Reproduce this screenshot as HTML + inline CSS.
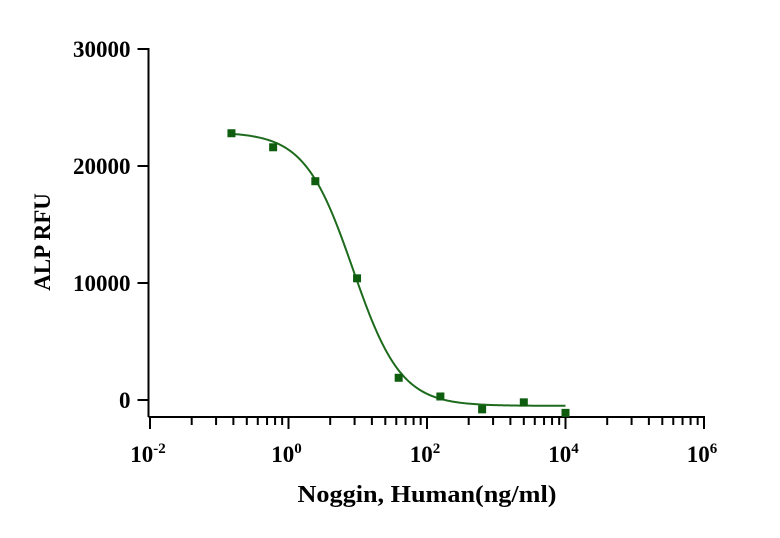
<!DOCTYPE html>
<html><head><meta charset="utf-8"><style>
body{margin:0;background:#fff}
svg text{font-family:"Liberation Serif",serif;font-weight:bold;fill:#000}
</style></head><body>
<svg id="chart" width="780" height="533" viewBox="0 0 780 533" xmlns="http://www.w3.org/2000/svg">
<g id="axes"></g><g id="plot"></g>
<text x="0" y="0" font-size="23" text-anchor="middle" transform="translate(50,242) rotate(-90)">ALP RFU</text>
<text x="427" y="502" font-size="24" text-anchor="middle" textLength="259" lengthAdjust="spacingAndGlyphs">Noggin, Human(ng/ml)</text>
</svg>
<script>
const concentrations=[0.15,0.6,2.44,9.77,39,156,625,2500,10000];
const rfuValues=[22800,21600,18700,10400,1900,300,-800,-200,-1100];
const yTicks=[0,10000,20000,30000];
const xTickExps=[-2,0,2,4,6];
const fitTop=22900,fitBottom=-500,fitEC50=8.5,fitHill=1.25;
const NS="http://www.w3.org/2000/svg";
const axX=148.5,axY=417;
function xs(v){return 288.5+Math.log10(v)/2*138.5;}
function ys(v){return 400-v*(351/30000);}
function el(t,a,p){const e=document.createElementNS(NS,t);for(const k in a)e.setAttribute(k,a[k]);p.appendChild(e);return e;}
const axes=document.getElementById('axes'),plot=document.getElementById('plot');
let e=el('line',{x1:axX,y1:ys(30000)-1,x2:axX,y2:axY,stroke:'#000','stroke-width':2},axes);

e=el('line',{x1:axX,y1:axY,x2:xs(1e6)+1,y2:axY,stroke:'#000','stroke-width':2},axes);

yTicks.forEach(v=>{
 const t=el('line',{x1:axX-11,y1:ys(v),x2:axX,y2:ys(v),stroke:'#000','stroke-width':2},axes);
 
 const l=el('text',{x:axX-18,y:ys(v)+8,'font-size':23,'text-anchor':'end'},axes);l.textContent=String(v);
 
});
xTickExps.forEach((p,i)=>{
 const x=xs(Math.pow(10,p));
 const t=el('line',{x1:x,y1:axY,x2:x,y2:axY+12,stroke:'#000','stroke-width':2},axes);
 
 const l=el('text',{x:x-2,y:axY+45,'font-size':23,'text-anchor':'middle'},axes);
 l.innerHTML='10<tspan dy="-9" font-size="15">'+p+'</tspan>';
 
 if(i<xTickExps.length-1){for(let k=2;k<=9;k++){
  const mx=x+Math.log10(k)*138.5;
  const m=el('line',{x1:mx,y1:axY,x2:mx,y2:axY+8,stroke:'#000','stroke-width':2},axes);
  
 }}
});
function fit(c){return fitBottom+(fitTop-fitBottom)/(1+Math.pow(c/fitEC50,fitHill));}
let d='';const lo=Math.log10(concentrations[0]),hi=Math.log10(concentrations[concentrations.length-1]);
for(let i=0;i<=200;i++){const c=Math.pow(10,lo+(hi-lo)*i/200);d+=(i?'L':'M')+xs(c).toFixed(2)+' '+ys(fit(c)).toFixed(2);}
e=el('path',{d:d,fill:'none',stroke:'#1e6b1e','stroke-width':2},plot);

concentrations.forEach((c,i)=>{
 const p=el('rect',{x:xs(c)-4,y:ys(rfuValues[i])-4,width:8,height:8,fill:'#0f5e0f'},plot);
 
});
</script>
</body></html>
